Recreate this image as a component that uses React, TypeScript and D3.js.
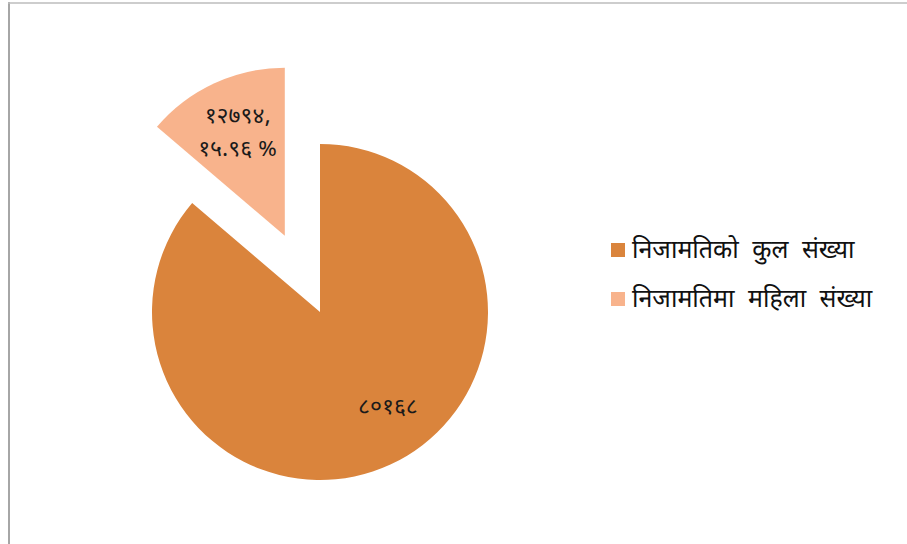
import { useEffect, useRef } from "react"
import * as d3 from "d3"

// slice data
const categories = ["निजामतिको कुल संख्या", "निजामतिमा महिला संख्या"]
const values = [80168, 12794]
const colors = ["#DA843C", "#F8B38C"]

const toDeva = (s: string) => s.replace(/[0-9]/g, (c) => "०१२३४५६७८९"[+c])

const App = () => {
  const svgRef = useRef<SVGSVGElement | null>(null)

  useEffect(() => {
    if (!svgRef.current) return
    const svg = d3.select(svgRef.current)
    svg.selectAll("*").remove()

    const width = 907
    const height = 544
    const cx = 320
    const cy = 312
    const radius = 168
    const explode = 84
    const font = "'Noto Sans Devanagari', 'Noto Sans', 'Lohit Devanagari', sans-serif"

    // frame lines
    svg.append("line").attr("x1", 9).attr("y1", 2).attr("x2", 9).attr("y2", height)
      .attr("stroke", "#a6a6a6").attr("stroke-width", 2)
    svg.append("line").attr("x1", 8).attr("y1", 3).attr("x2", width).attr("y2", 3)
      .attr("stroke", "#bdbdbd").attr("stroke-width", 1.5)

    const pie = d3.pie<number>().sort(null).value((d) => d)
    const arcs = pie(values)
    const arc = d3.arc<d3.PieArcDatum<number>>().innerRadius(0).outerRadius(radius)

    const g = svg.append("g").attr("transform", `translate(${cx},${cy})`)

    arcs.forEach((a, i) => {
      const mid = (a.startAngle + a.endAngle) / 2
      const off = i === 1 ? explode : 0
      const ox = Math.sin(mid) * off
      const oy = -Math.cos(mid) * off
      const sg = g.append("g").attr("transform", `translate(${ox},${oy})`)
      sg.append("path").attr("d", arc(a)).attr("fill", colors[i])

      // label position
      const shift = i === 0 ? (-10.5 * Math.PI) / 180 : 0
      const la = mid + shift
      const lr = radius * (i === 0 ? 0.7 : 0.67)
      const lx = Math.sin(la) * lr
      const ly = -Math.cos(la) * lr
      const lines =
        i === 0
          ? [toDeva(String(values[0]))]
          : [toDeva(String(values[1])) + ",", toDeva(((values[1] / values[0]) * 100).toFixed(2)) + " %"]
      const lh = 33
      lines.forEach((t, j) => {
        sg.append("text")
          .attr("x", lx)
          .attr("y", ly + (j - (lines.length - 1) / 2) * lh)
          .attr("text-anchor", "middle")
          .attr("dominant-baseline", "central")
          .style("font-family", font)
          .style("font-size", "23px")
          .attr("fill", "#1a1a1a")
          .text(t)
      })
    })

    // legend
    const legend = svg.append("g").attr("transform", "translate(611,243)")
    categories.forEach((c, i) => {
      const row = legend.append("g").attr("transform", `translate(0,${i * 49})`)
      row.append("rect").attr("width", 14).attr("height", 14).attr("fill", colors[i])
      row.append("text")
        .attr("x", 21)
        .attr("y", 9)
        .attr("dominant-baseline", "central")
        .style("font-family", font)
        .style("font-size", "25px")
        .style("word-spacing", "7px")
        .attr("fill", "#111")
        .text(c)
    })
  }, [])

  return (
    <svg
      ref={svgRef}
      width={907}
      height={544}
      style={{ position: "absolute", left: 0, top: 0, background: "#fff" }}
    />
  )
}

export default App
